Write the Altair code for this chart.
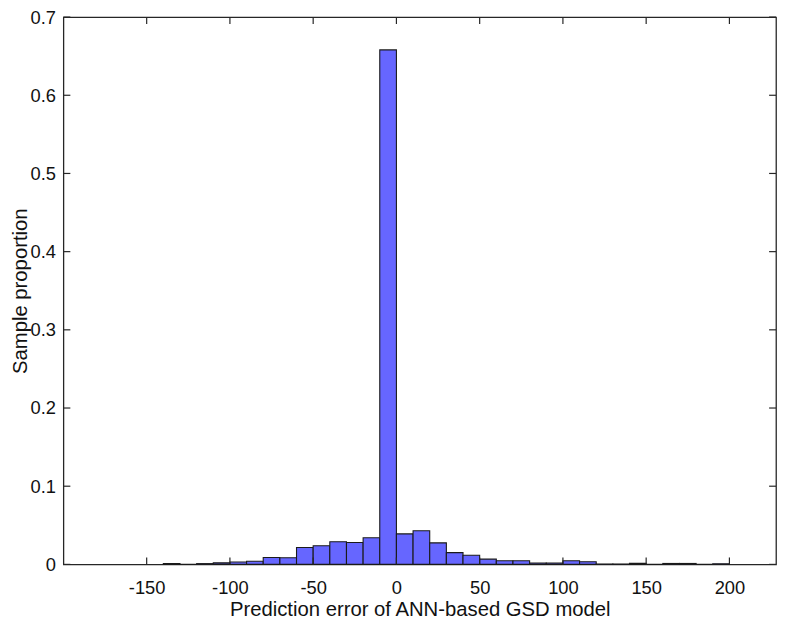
import altair as alt
import pandas as pd

# Histogram bins (left edges, width 10) and sample proportions
bin_left = [-140, -130, -120, -110, -100, -90, -80, -70, -60, -50, -40, -30, -20, -10,
            0, 10, 20, 30, 40, 50, 60, 70, 80, 90, 100, 110, 120, 130, 140, 150,
            160, 170, 180, 190]
proportion = [0.0012, 0.0, 0.001, 0.002, 0.003, 0.004, 0.0088, 0.0085, 0.0217, 0.0238,
              0.029, 0.028, 0.034, 0.658,
              0.039, 0.043, 0.0275, 0.015, 0.0117, 0.0067, 0.0046, 0.0046, 0.0017, 0.0017,
              0.0046, 0.0034, 0.0005, 0.0005, 0.0015, 0.0, 0.0012, 0.0012, 0.0, 0.0008]
bin_width = 10

x_ticks = [-150, -100, -50, 0, 50, 100, 150, 200]
y_ticks = [0, 0.1, 0.2, 0.3, 0.4, 0.5, 0.6, 0.7]

x_domain = [-200, 228]
y_domain = [0, 0.7]

X_TITLE = "Prediction error of ANN-based GSD model"
Y_TITLE = "Sample proportion"

W, H = 720, 553
FONT = "Liberation Sans"
TICK_LEN = 7

df = pd.DataFrame({
    "x0": bin_left,
    "x1": [b + bin_width for b in bin_left],
    "p": proportion,
})
df_xt = pd.DataFrame({"t": x_ticks})
df_yt = pd.DataFrame({"t": y_ticks})

xs = alt.Scale(domain=x_domain, nice=False, zero=False)
ys = alt.Scale(domain=y_domain, nice=False, zero=False)

x_axis = alt.Axis(
    values=x_ticks, labelExpr="toString(datum.value)",
    ticks=False, domain=False, grid=False, labelPadding=14,
    labelFontSize=18.5, titleFontSize=20.5, titlePadding=3,
    labelColor="#111111", titleColor="#111111", labelFont=FONT, titleFont=FONT,
    titleFontWeight="normal")
y_axis = alt.Axis(
    values=y_ticks, labelExpr="toString(datum.value)",
    ticks=False, domain=False, grid=False, labelPadding=8,
    labelFontSize=18.5, titleFontSize=20.5, titlePadding=0,
    labelColor="#111111", titleColor="#111111", labelFont=FONT, titleFont=FONT,
    titleFontWeight="normal")

bars = alt.Chart(df).mark_rect(
    fill="#6666ff", stroke="#1a1a1a", strokeWidth=1.1
).encode(
    x=alt.X("x0:Q", scale=xs, axis=x_axis, title=X_TITLE),
    x2="x1:Q",
    y=alt.Y("p:Q", scale=ys, axis=y_axis, title=Y_TITLE),
    y2=alt.datum(0),
)

tick_style = dict(color="#262626", strokeWidth=1.2)

xt_bottom = alt.Chart(df_xt).mark_rule(**tick_style).encode(
    x=alt.X("t:Q", scale=xs, axis=x_axis, title=X_TITLE),
    y=alt.value(H), y2=alt.value(H - TICK_LEN))
xt_top = alt.Chart(df_xt).mark_rule(**tick_style).encode(
    x=alt.X("t:Q", scale=xs, axis=x_axis, title=X_TITLE),
    y=alt.value(0), y2=alt.value(TICK_LEN))
yt_left = alt.Chart(df_yt).mark_rule(**tick_style).encode(
    y=alt.Y("t:Q", scale=ys, axis=y_axis, title=Y_TITLE),
    x=alt.value(0), x2=alt.value(TICK_LEN))
yt_right = alt.Chart(df_yt).mark_rule(**tick_style).encode(
    y=alt.Y("t:Q", scale=ys, axis=y_axis, title=Y_TITLE),
    x=alt.value(W - TICK_LEN), x2=alt.value(W))

chart = alt.layer(bars, xt_bottom, xt_top, yt_left, yt_right).properties(
    width=W, height=H,
    autosize=alt.AutoSizeParams(type="none"),
    padding={"left": 56, "top": 6, "right": 3, "bottom": 52},
).configure(
    background="white"
).configure_view(
    stroke="#262626", strokeWidth=1.3
)

chart.save("out.html", embed_options={"renderer": "svg", "actions": False})
